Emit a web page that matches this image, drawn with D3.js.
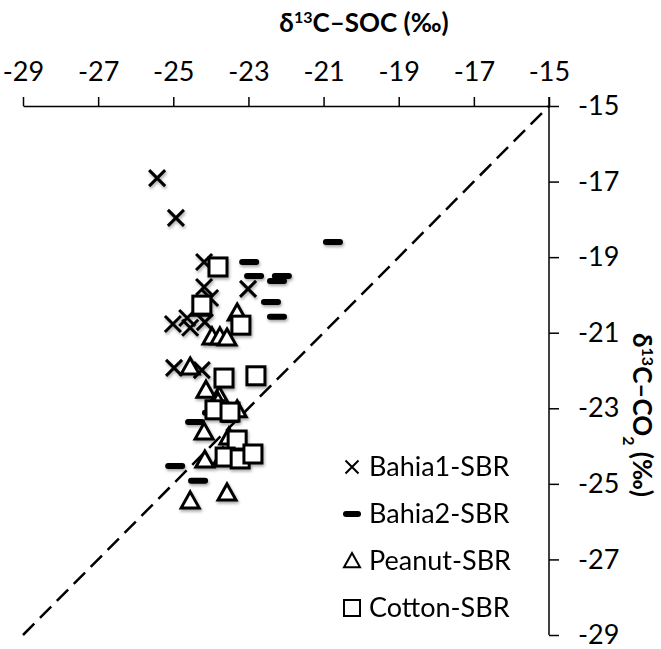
<!DOCTYPE html>
<html>
<head>
<meta charset="utf-8">
<script src="https://cdn.jsdelivr.net/npm/d3@7"></script>
<style>
  html, body { margin: 0; padding: 0; background: #fff; }
  svg { display: block; }
  text { font-family: Lato, "Open Sans", sans-serif; fill: #000; }
</style>
</head>
<body>
<svg id="chart" width="661" height="649"></svg>
<script>
// δ13C of soil organic carbon (x) vs δ13C of respired CO2 (y), per soil
const bahia1 = [
  [-25.43, -16.91], [-24.93, -17.96], [-24.18, -19.13], [-24.18, -19.79],
  [-24.02, -20.08], [-23.01, -19.84], [-25.01, -20.77], [-24.63, -20.61],
  [-24.55, -20.87], [-24.16, -20.72], [-24.98, -21.93], [-24.24, -21.99]
];
const bahia2 = [
  [-20.75, -18.60], [-22.98, -19.13], [-22.85, -19.50], [-22.11, -19.50],
  [-22.24, -19.63], [-22.40, -20.19], [-22.24, -20.58], [-24.42, -23.36],
  [-23.97, -23.12], [-23.49, -23.31], [-24.95, -24.53], [-24.34, -24.92]
];
const peanut = [
  [-23.30, -20.48], [-23.97, -21.11], [-23.76, -21.11], [-23.57, -21.14],
  [-24.26, -20.35], [-24.55, -21.91], [-24.13, -22.52], [-23.78, -22.67],
  [-23.30, -23.04], [-23.81, -22.83], [-24.18, -23.63], [-23.52, -23.76],
  [-24.16, -24.37], [-23.68, -24.29], [-24.55, -25.45], [-23.57, -25.24]
];
const cotton = [
  [-23.81, -19.26], [-24.24, -20.27], [-23.20, -20.80], [-23.65, -22.20],
  [-22.80, -22.14], [-23.89, -23.04], [-23.49, -23.10], [-23.30, -23.84],
  [-23.62, -24.29], [-23.22, -24.34], [-22.88, -24.21]
];
const seriesNames = ["Bahia1-SBR", "Bahia2-SBR", "Peanut-SBR", "Cotton-SBR"];
const xTicks = [-29, -27, -25, -23, -21, -19, -17, -15];
const yTicks = [-15, -17, -19, -21, -23, -25, -27, -29];
const oneToOne = [[-29, -29], [-15, -15]];

const svg = d3.select("#chart");
const x = d3.scaleLinear().domain([-29, -15]).range([23, 549]);
const y = d3.scaleLinear().domain([-15, -29]).range([106, 635]);

// soft drop shadow under the data markers
const defs = svg.append("defs");
const f = defs.append("filter").attr("id", "shadow")
  .attr("x", "-50%").attr("y", "-50%").attr("width", "200%").attr("height", "200%");
f.append("feDropShadow").attr("dx", 1).attr("dy", 2)
  .attr("stdDeviation", 1.5).attr("flood-color", "#000").attr("flood-opacity", 0.35);

// 1:1 reference line
svg.append("line")
  .attr("x1", x(oneToOne[0][0])).attr("y1", y(oneToOne[0][1]))
  .attr("x2", x(oneToOne[1][0])).attr("y2", y(oneToOne[1][1]))
  .attr("stroke", "#000").attr("stroke-width", 2.5)
  .attr("stroke-dasharray", "16,8");

// top x axis, ticks pointing up
const xAxis = svg.append("g").attr("transform", `translate(0,${y(-15)})`)
  .call(d3.axisTop(x).tickValues(xTicks).tickSize(9).tickSizeOuter(0).tickFormat(d3.format("d")));
xAxis.select(".domain").attr("stroke-width", 1.5);
xAxis.selectAll(".tick line").attr("stroke-width", 1.5);
xAxis.selectAll(".tick text").attr("y", -25).attr("font-size", 27)
  .style("font-family", "Lato, sans-serif").text(d => String(d).replace("−", "-"));

// right y axis, ticks pointing right
const yAxis = svg.append("g").attr("transform", `translate(${x(-15)},0)`)
  .call(d3.axisRight(y).tickValues(yTicks).tickSize(10).tickSizeOuter(0).tickFormat(d3.format("d")));
yAxis.select(".domain").attr("stroke-width", 1.5);
yAxis.selectAll(".tick line").attr("stroke-width", 1.5);
yAxis.selectAll(".tick text").attr("x", 29).attr("font-size", 27)
  .style("font-family", "Lato, sans-serif").text(d => String(d).replace("−", "-"));
// the y axis line starts at the top of the -15 x tick
yAxis.select(".domain").attr("d", `M0,${y(-15) - 9}V${y(-29)}`);

// axis titles
const tx = svg.append("text").attr("x", 364).attr("y", 32)
  .attr("text-anchor", "middle").attr("font-size", 26).attr("font-weight", "bold");
tx.append("tspan").text("δ");
tx.append("tspan").attr("baseline-shift", "super").attr("font-size", 16).text("13");
tx.append("tspan").text("C–SOC (‰)");

const ty = svg.append("text")
  .attr("transform", "translate(633,415) rotate(90)")
  .attr("text-anchor", "middle").attr("font-size", 26).attr("font-weight", "bold");
ty.append("tspan").text("δ");
ty.append("tspan").attr("baseline-shift", "super").attr("font-size", 16).text("13");
ty.append("tspan").text("C–CO");
ty.append("tspan").attr("baseline-shift", "sub").attr("font-size", 16).text("2");
ty.append("tspan").text(" (‰)");

// marker shapes
const sw = 3;
function drawCross(g, s) {
  g.append("path").attr("d", `M${-s},${-s}L${s},${s}M${-s},${s}L${s},${-s}`)
    .attr("stroke", "#000").attr("stroke-width", sw).attr("fill", "none");
}
function drawDash(g, w, h) {
  g.append("rect").attr("x", -w / 2).attr("y", -h / 2).attr("width", w).attr("height", h)
    .attr("rx", h / 2).attr("fill", "#000");
}
function drawTri(g, s) {
  g.append("path").attr("d", `M0,${-s}L${s},${s * 0.78}L${-s},${s * 0.78}Z`)
    .attr("stroke", "#000").attr("stroke-width", sw).attr("fill", "#fff")
    .attr("stroke-linejoin", "miter");
}
function drawSquare(g, s) {
  g.append("rect").attr("x", -s).attr("y", -s).attr("width", 2 * s).attr("height", 2 * s)
    .attr("stroke", "#000").attr("stroke-width", sw).attr("fill", "#fff");
}

const marks = svg.append("g").attr("filter", "url(#shadow)");
function plot(data, drawer) {
  marks.append("g").selectAll("g").data(data).join("g")
    .attr("transform", d => `translate(${x(d[0])},${y(d[1])})`)
    .each(function () { drawer(d3.select(this)); });
}
plot(bahia1, g => drawCross(g, 8));
plot(bahia2, g => drawDash(g, 20, 6));
plot(peanut, g => drawTri(g, 9));
plot(cotton, g => drawSquare(g, 9));

// legend
const legendDrawers = [
  g => drawCross(g, 6.5),
  g => drawDash(g, 18, 6),
  g => drawTri(g, 8),
  g => drawSquare(g, 8)
];
const lg = svg.append("g");
seriesNames.forEach((name, i) => {
  const row = lg.append("g").attr("transform", `translate(352,${467 + i * 47})`);
  const m = row.append("g");
  legendDrawers[i](m);
  m.selectAll("path,rect").attr("stroke-width", 2);
  if (i === 1) m.select("rect").attr("stroke-width", 0);
  row.append("text").attr("x", 17).attr("y", 9).attr("font-size", 27).text(name);
});
</script>
</body>
</html>
